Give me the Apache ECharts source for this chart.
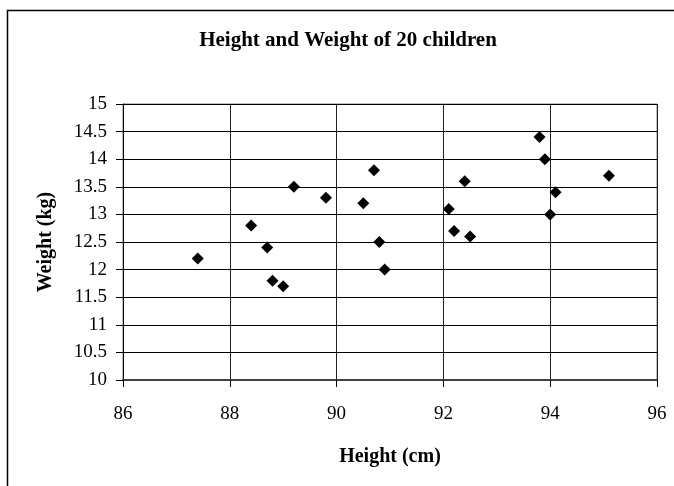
<!DOCTYPE html>
<html>
<head>
<meta charset="UTF-8">
<title>Height and Weight of 20 children</title>
<script src="https://cdn.jsdelivr.net/npm/echarts@6/dist/echarts.min.js"></script>
<style>
  html, body { margin: 0; padding: 0; background: #fff; }
  #chart { width: 674px; height: 486px; }
</style>
</head>
<body>
<div id="chart"></div>
<script>
// heights (cm) and weights (kg) of the 20 children
var heights = [87.4, 88.4, 88.7, 88.8, 89.0, 89.2, 89.8, 90.5, 90.7, 90.8,
               90.9, 92.1, 92.4, 92.2, 92.5, 93.8, 93.9, 94.1, 94.0, 95.1];
var weights = [12.2, 12.8, 12.4, 11.8, 11.7, 13.5, 13.3, 13.2, 13.8, 12.5,
               12.0, 13.1, 13.6, 12.7, 12.6, 14.4, 14.0, 13.4, 13.0, 13.7];
var xTicks = [86, 88, 90, 92, 94, 96];
var yTicks = [10, 10.5, 11, 11.5, 12, 12.5, 13, 13.5, 14, 14.5, 15];

var points = [];
for (var i = 0; i < heights.length; i++) {
  points.push([heights[i], weights[i]]);
}

var serif = 'Liberation Serif';
var chart = echarts.init(document.getElementById('chart'));
var option = {
  backgroundColor: '#fff',
  animation: false,
  title: {
    text: 'Height and Weight of 20 children',
    left: 348,
    top: 30,
    padding: 0,
    textAlign: 'center',
    textStyle: { fontFamily: serif, fontSize: 21, fontWeight: 'bold', color: '#000', lineHeight: 22 }
  },
  graphic: [{
    type: 'rect',
    shape: { x: 7.5, y: 10.5, width: 900, height: 900 },
    style: { fill: 'none', stroke: '#000', lineWidth: 1.5 },
    silent: true
  }],
  grid: {
    left: 123, top: 104, right: 17, bottom: 106,
    show: true, borderColor: '#808080', borderWidth: 1
  },
  xAxis: {
    type: 'value',
    min: xTicks[0],
    max: xTicks[xTicks.length - 1],
    interval: 2,
    name: 'Height (cm)',
    nameLocation: 'middle',
    nameGap: 67,
    nameTextStyle: { fontFamily: serif, fontSize: 20, fontWeight: 'bold', color: '#000' },
    axisLine: { show: true, lineStyle: { color: '#404040', width: 2 } },
    axisTick: { show: true, length: 7, lineStyle: { color: '#000' } },
    axisLabel: { margin: 25, fontFamily: serif, fontSize: 19, color: '#000' },
    splitLine: { show: true, lineStyle: { color: '#202020', width: 1 } }
  },
  yAxis: {
    type: 'value',
    min: yTicks[0],
    max: yTicks[yTicks.length - 1],
    interval: 0.5,
    name: 'Weight (kg)',
    nameLocation: 'middle',
    nameGap: 67,
    nameTextStyle: { fontFamily: serif, fontSize: 20, fontWeight: 'bold', color: '#000' },
    axisLine: { show: true, lineStyle: { color: '#000', width: 1 } },
    axisTick: { show: true, length: 7, lineStyle: { color: '#000' } },
    axisLabel: { margin: 16, fontFamily: serif, fontSize: 19, color: '#000' },
    splitLine: { show: true, lineStyle: { color: '#000', width: 1 } }
  },
  series: [{
    type: 'scatter',
    data: points,
    symbol: 'diamond',
    symbolSize: 12,
    itemStyle: { color: '#000', opacity: 1 }
  }]
};
chart.setOption(option);
</script>
</body>
</html>
